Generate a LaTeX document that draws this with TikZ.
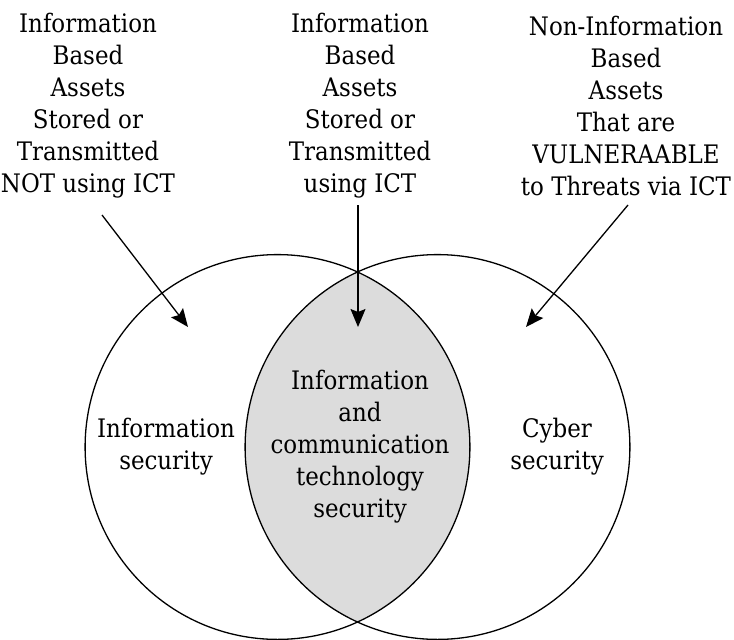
\documentclass[tikz,border=0pt]{standalone}
\usepackage{fontspec}
\setmainfont{DejaVu Serif Condensed}
\usetikzlibrary{arrows.meta}
\definecolor{lensgray}{RGB}{220,220,220}
\begin{document}
\begin{tikzpicture}[x=1pt,y=-1pt,
  lbl/.style={align=center, font=\fontsize{25.5}{32}\selectfont, inner sep=0pt},
  ring/.style={circle, draw, line width=1.3pt, minimum size=384.8pt, inner sep=0pt},
  arr/.style={line width=1.3pt, -{Stealth[length=18pt,width=15pt,inset=3pt]}}]
\useasboundingbox (0,0) rectangle (734,640);
% lens
\begin{scope}
  \clip (277.5,447) circle[radius=192.4pt];
  \fill[lensgray] (437.5,447) circle[radius=192.4pt];
\end{scope}
\node[ring] (L) at (277.5,447) {};
\node[ring] (R) at (437.5,447) {};
% texts in circles
\node[lbl] (infosec) at (166,447) {Information\\security};
\node[lbl] (ictsec) at (360,447) {Information\\and\\communication\\technology\\security};
\node[lbl] (cybersec) at (557,447) {Cyber\\security};
% top texts
\node[lbl] (tl) at (88,106) {Information\\Based\\Assets\\Stored or\\Transmitted\\NOT using ICT};
\node[lbl] (tm) at (360,106) {Information\\Based\\Assets\\Stored or\\Transmitted\\using ICT};
\node[lbl] (tr) at (626,106) {Non-Information\\Based\\Assets\\That are\\VULNERAABLE\\to Threats via ICT};
% arrows
\coordinate (a1s) at (102,215);
\coordinate (a1e) at (188,327);
\coordinate (a2s) at (358,205);
\coordinate (a2e) at (358,327);
\coordinate (a3s) at (628,205);
\coordinate (a3e) at (526,327);
\draw[arr] (a1s) -- (a1e);
\draw[arr] (a2s) -- (a2e);
\draw[arr] (a3s) -- (a3e);
\end{tikzpicture}
\end{document}
